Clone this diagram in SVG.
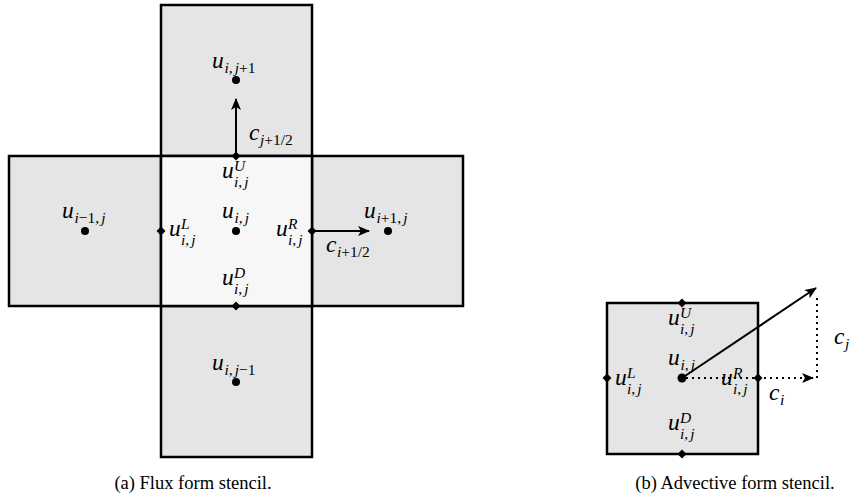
<svg xmlns="http://www.w3.org/2000/svg" width="850" height="498" viewBox="0 0 850 498">
<style>
.cell{fill:#e5e5e5;stroke:#000;stroke-width:2.5}
.mid{fill:#f7f7f7;stroke:#000;stroke-width:2.5}
.dot{fill:#000}
text{font-family:"Liberation Serif","DejaVu Serif","Times New Roman",serif;fill:#000}
.m{font-style:italic;font-size:23.5px}
.s{font-style:italic;font-size:15.5px}
.r{font-style:normal}
.cap{font-size:18.5px}
.arr{stroke:#000;stroke-width:2;fill:none}
.dash{stroke:#000;stroke-width:2;fill:none;stroke-dasharray:2 4}
</style>
<defs>
<marker id="ah" viewBox="0 0 12 10" refX="11" refY="5" markerWidth="12" markerHeight="10" markerUnits="userSpaceOnUse" orient="auto">
<path d="M0,0 L12,5 L0,10 L3,5 Z" fill="#000"/>
</marker>
<path id="dia" d="M0,-4.5 L4.5,0 L0,4.5 L-4.5,0 Z" fill="#000"/>
</defs>

<!-- (a) flux form -->
<g id="cell-top"><rect class="cell" x="161" y="5" width="151" height="151"/></g>
<g id="cell-bottom"><rect class="cell" x="161" y="306" width="151" height="151"/></g>
<g id="cell-left"><rect class="cell" x="9" y="156" width="152" height="150"/></g>
<g id="cell-right"><rect class="cell" x="312" y="156" width="151" height="150"/></g>
<g id="cell-center"><rect class="mid" x="161" y="156" width="151" height="150"/></g>
<!-- (b) advective form -->
<g id="cell-adv"><rect class="cell" x="607" y="303" width="151" height="151"/></g>

<g id="connectors">
<line class="arr" x1="236" y1="156" x2="236" y2="99" marker-end="url(#ah)"/>
<line class="arr" x1="312" y1="231" x2="369" y2="231" marker-end="url(#ah)"/>
<line class="arr" x1="682" y1="378" x2="816" y2="288" marker-end="url(#ah)"/>
<line class="dash" x1="686" y1="378" x2="813" y2="378" marker-end="url(#ah)"/>
<line class="dash" x1="817" y1="378" x2="817" y2="294"/>
</g>

<g id="node-top">
<circle class="dot" cx="236" cy="80" r="4"/>
<text class="m" x="212" y="68">u</text><text class="s" x="224.5" y="72.5">i<tspan class="r">,</tspan><tspan dx="2">j</tspan><tspan class="r">+1</tspan></text>
</g>
<g id="node-left">
<circle class="dot" cx="85" cy="231" r="4"/>
<text class="m" x="62" y="218">u</text><text class="s" x="74.5" y="222.5">i<tspan class="r">−1,</tspan><tspan dx="2">j</tspan></text>
</g>
<g id="node-right">
<circle class="dot" cx="388" cy="231" r="4"/>
<text class="m" x="364" y="218">u</text><text class="s" x="376.5" y="222.5">i<tspan class="r">+1,</tspan><tspan dx="2">j</tspan></text>
</g>
<g id="node-bottom">
<circle class="dot" cx="236" cy="382" r="4"/>
<text class="m" x="212" y="370">u</text><text class="s" x="224.5" y="374.5">i<tspan class="r">,</tspan><tspan dx="2">j</tspan><tspan class="r">−1</tspan></text>
</g>
<g id="node-center">
<circle class="dot" cx="236" cy="231" r="4"/>
<text class="m" x="222" y="218">u</text><text class="s" x="234.5" y="222.5">i<tspan class="r">,</tspan><tspan dx="2">j</tspan></text>
</g>
<g id="face-U">
<use href="#dia" x="236" y="156"/>
<text class="m" x="222" y="178">u</text><text class="s" x="234" y="171">U</text><text class="s" x="234" y="187">i<tspan class="r">,</tspan><tspan dx="2">j</tspan></text>
</g>
<g id="face-D">
<use href="#dia" x="236" y="306"/>
<text class="m" x="222" y="285">u</text><text class="s" x="234" y="278">D</text><text class="s" x="234" y="294">i<tspan class="r">,</tspan><tspan dx="2">j</tspan></text>
</g>
<g id="face-L">
<use href="#dia" x="161" y="231"/>
<text class="m" x="169" y="236">u</text><text class="s" x="181" y="229">L</text><text class="s" x="181" y="245">i<tspan class="r">,</tspan><tspan dx="2">j</tspan></text>
</g>
<g id="face-R">
<use href="#dia" x="312" y="231"/>
<text class="m" x="276" y="236">u</text><text class="s" x="288" y="229">R</text><text class="s" x="288" y="245">i<tspan class="r">,</tspan><tspan dx="2">j</tspan></text>
</g>
<g id="label-cj">
<text class="m" x="249" y="140">c</text><text class="s" x="260" y="145">j<tspan class="r">+1/2</tspan></text>
</g>
<g id="label-ci">
<text class="m" x="326" y="252">c</text><text class="s" x="337" y="257">i<tspan class="r">+1/2</tspan></text>
</g>

<g id="adv-center">
<circle class="dot" cx="682" cy="378" r="4.5"/>
<text class="m" x="668" y="365">u</text><text class="s" x="680.5" y="369.5">i<tspan class="r">,</tspan><tspan dx="2">j</tspan></text>
</g>
<g id="adv-U">
<use href="#dia" x="682" y="303"/>
<text class="m" x="668" y="325">u</text><text class="s" x="680" y="318">U</text><text class="s" x="680" y="334">i<tspan class="r">,</tspan><tspan dx="2">j</tspan></text>
</g>
<g id="adv-D">
<use href="#dia" x="682" y="454"/>
<text class="m" x="668" y="430">u</text><text class="s" x="680" y="423">D</text><text class="s" x="680" y="439">i<tspan class="r">,</tspan><tspan dx="2">j</tspan></text>
</g>
<g id="adv-L">
<use href="#dia" x="607" y="378"/>
<text class="m" x="615" y="385">u</text><text class="s" x="627" y="378">L</text><text class="s" x="627" y="394">i<tspan class="r">,</tspan><tspan dx="2">j</tspan></text>
</g>
<g id="adv-R">
<use href="#dia" x="758" y="378"/>
<text class="m" x="721" y="385">u</text><text class="s" x="733" y="378">R</text><text class="s" x="733" y="394">i<tspan class="r">,</tspan><tspan dx="2">j</tspan></text>
</g>
<g id="adv-ci"><text class="m" x="769" y="400">c</text><text class="s" x="780" y="405">i</text></g>
<g id="adv-cj"><text class="m" x="834" y="344">c</text><text class="s" x="845" y="349">j</text></g>

<text class="cap" x="193" y="489" text-anchor="middle">(a) Flux form stencil.</text>
<text class="cap" x="735" y="489" text-anchor="middle">(b) Advective form stencil.</text>
</svg>
